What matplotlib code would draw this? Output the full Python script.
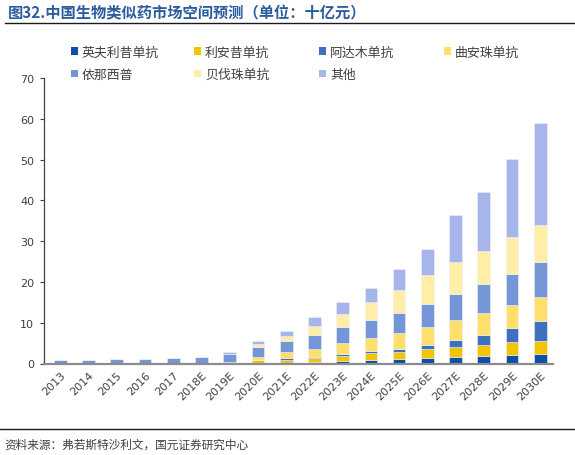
import matplotlib
matplotlib.use("Agg")
import matplotlib.pyplot as plt
from matplotlib.lines import Line2D
from matplotlib.patches import Patch
import numpy as np

plt.rcParams['font.family'] = ['Noto Sans CJK SC', 'DejaVu Sans']

years = ["2013", "2014", "2015", "2016", "2017", "2018E", "2019E", "2020E", "2021E",
         "2022E", "2023E", "2024E", "2025E", "2026E", "2027E", "2028E", "2029E", "2030E"]
series_names = ["英夫利昔单抗", "利安昔单抗", "阿达木单抗", "曲安珠单抗", "依那西普", "贝伐珠单抗", "其他"]

infliximab = [0, 0, 0, 0, 0, 0, 0.05, 0.15, 0.2, 0.3, 0.55, 0.85, 1.1, 1.35, 1.5, 1.75, 2.1, 2.35]
rituximab = [0, 0, 0, 0, 0, 0, 0.35, 0.6, 0.75, 1.1, 1.35, 1.7, 1.8, 2.2, 2.55, 2.85, 3.1, 3.25]
adalimumab = [0, 0, 0, 0, 0, 0, 0.05, 0.1, 0.3, 0.25, 0.4, 0.45, 0.75, 1.05, 1.65, 2.5, 3.4, 4.8]
trastuzumab = [0, 0, 0, 0, 0, 0, 0, 0.75, 1.45, 1.95, 2.65, 3.2, 3.75, 4.3, 4.9, 5.2, 5.8, 6.0]
etanercept = [0.8, 0.9, 1.0, 1.1, 1.35, 1.6, 1.85, 2.5, 2.75, 3.35, 3.95, 4.5, 5.1, 5.8, 6.4, 7.1, 7.6, 8.5]
bevacizumab = [0, 0, 0, 0, 0, 0, 0, 0.7, 1.35, 2.35, 3.25, 4.4, 5.6, 6.9, 7.9, 8.3, 8.9, 9.1]
others = [0, 0, 0, 0, 0, 0, 0.5, 0.7, 1.25, 2.0, 2.85, 3.5, 5.0, 6.5, 11.4, 14.4, 19.2, 24.9]

colors = ["#0d4ea6", "#f2c500", "#3f6fbf", "#ffdf6b", "#7496d6", "#ffeda8", "#a6b5ea"]

data = [infliximab, rituximab, adalimumab, trastuzumab, etanercept, bevacizumab, others]

fig = plt.figure(figsize=(5.75, 4.56), dpi=100)
ax = fig.add_axes([44/575, 1-364.5/456, (553-44)/575, (364.5-79)/456])

x = np.arange(len(years))
bottom = np.zeros(len(years))
handles = []
for name, vals, c in zip(series_names, data, colors):
    v = np.array(vals)
    ax.bar(x, v, width=0.45, bottom=bottom, color=c, edgecolor='#eef0f6', linewidth=0.4, label=name)
    bottom += v
    handles.append(Patch(facecolor=c, edgecolor='none', label=name))

ax.set_xlim(-0.577, 17.45)
ax.set_ylim(0, 70)
ax.set_yticks(range(0, 71, 10))
ax.set_xticks(x)
ax.set_xticklabels(years, rotation=45, ha='right', rotation_mode='anchor', fontsize=8, color='#404040',
                   family=['DejaVu Sans'])
for lab in ax.get_yticklabels():
    lab.set_fontsize(8)
    lab.set_color('#404040')
    lab.set_family(['DejaVu Sans'])
ax.tick_params(axis='x', length=0, pad=4)
ax.tick_params(axis='y', length=3, width=0.8, color='#404040', pad=4)
for s in ['top', 'right']:
    ax.spines[s].set_visible(False)
ax.spines['left'].set_color('#404040')
ax.spines['left'].set_linewidth(0.9)
ax.spines['bottom'].set_color('#8c8c8c')
ax.spines['bottom'].set_linewidth(1.6)

# legend entries at fixed grid positions, row-wise order
col_x = [71, 194, 319, 444]
row_y = [53, 75.5]
for i, h in enumerate(handles):
    cx = col_x[i % 4]
    ry = row_y[i // 4]
    leg = fig.legend(handles=[h], loc='center left', bbox_to_anchor=(cx/575, 1-ry/456),
                     frameon=False, fontsize=9.3, handlelength=0.55, handleheight=0.55, handletextpad=0.3,
                     borderaxespad=0, borderpad=0)
    for t in leg.get_texts():
        t.set_color('#404040')

fig.text(8/575, 1-13/456, "图32.中国生物类似药市场空间预测（单位：十亿元）", fontsize=11, fontweight='bold',
         color='#2b5c9e', va='center', ha='left')
fig.add_artist(Line2D([5/575, 1], [1-24/456, 1-24/456], color='#1a1a1a', linewidth=1.0))
fig.add_artist(Line2D([0, 1], [1-430/456, 1-430/456], color='#1a1a1a', linewidth=1.0))
fig.text(4/575, 1-445/456, "资料来源：弗若斯特沙利文，国元证券研究中心", fontsize=8.4, color='#404040',
         va='center', ha='left')

fig.savefig("out.png", dpi=100)
